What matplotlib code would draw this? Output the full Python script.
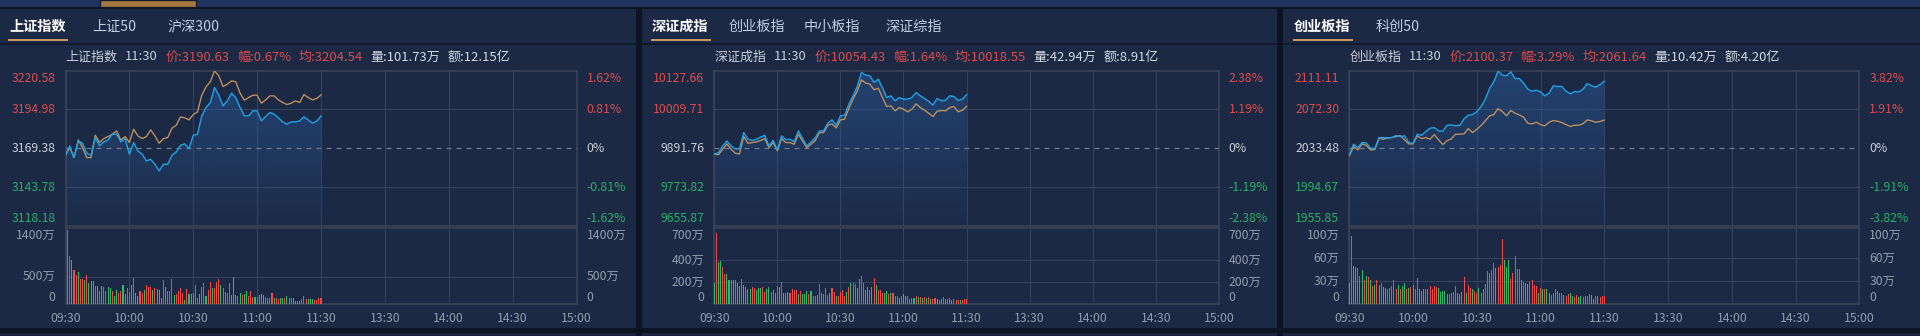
import numpy as np
import matplotlib
matplotlib.use("Agg")
import matplotlib.pyplot as plt
from matplotlib.patches import Rectangle, Polygon
from matplotlib.colors import to_rgb

plt.rcParams['font.family'] = ['Noto Sans CJK SC', 'DejaVu Sans']

# ---------------- data ----------------
time_ticks = [0, 30, 60, 90, 120, 150, 180, 210, 240]
time_labels = ['09:30', '10:00', '10:30', '11:00', '11:30', '13:30', '14:00', '14:30', '15:00']
line_minutes = list(range(0, 121, 2))
vol_minutes = list(range(121))

# 上证指数
sh_tabs = ['上证指数', '上证50', '沪深300']
sh_header = ['上证指数', '11:30', '价:3190.63', '幅:0.67%', '均:3204.54', '量:101.73万', '额:12.15亿']
sh_ticks = [3220.58, 3194.98, 3169.38, 3143.78, 3118.18]
sh_pct = ['1.62%', '0.81%', '0%', '-0.81%', '-1.62%']
sh_vol_ticks = [0, 500, 1400]
sh_price = [3164.77, 3170.92, 3163.23, 3174.22, 3172.68, 3166.08, 3164.77, 3176.41, 3170.92, 3173.56,
            3174.87, 3178.61, 3178.61, 3173.56, 3175.75, 3165.43, 3173.12, 3167.62, 3165.43, 3161.03,
            3162.13, 3158.83, 3154.44, 3158.83, 3158.83, 3164.77, 3166.96, 3171.36, 3172.24, 3169.16,
            3177.95, 3178.61, 3190.70, 3196.19, 3199.48, 3209.37, 3204.32, 3197.29, 3200.58, 3205.64,
            3202.56, 3196.19, 3190.70, 3190.70, 3193.99, 3193.99, 3187.40, 3190.26, 3192.89, 3191.79,
            3189.38, 3186.74, 3185.20, 3186.74, 3186.74, 3187.40, 3190.04, 3188.06, 3185.86, 3187.18,
            3190.63]
sh_avg = [3164.77, 3169.82, 3163.23, 3174.87, 3169.82, 3163.23, 3163.23, 3177.95, 3173.12, 3175.75,
          3177.07, 3178.61, 3180.81, 3174.87, 3177.07, 3173.12, 3181.91, 3177.51, 3175.75, 3177.07,
          3181.47, 3177.51, 3172.68, 3175.75, 3176.41, 3182.57, 3184.54, 3190.04, 3189.38, 3188.06,
          3191.57, 3193.33, 3204.32, 3209.81, 3213.11, 3220.36, 3217.06, 3210.03, 3211.57, 3213.77,
          3213.11, 3205.64, 3201.02, 3202.78, 3204.32, 3204.32, 3199.05, 3201.24, 3203.88, 3203.88,
          3201.24, 3199.48, 3198.17, 3199.05, 3200.58, 3199.48, 3204.76, 3202.78, 3201.24, 3202.12,
          3204.54]
sh_vol = [505, 1349, 885, 807, 626, 536, 590, 458, 458, 445, 530, 391, 415, 415, 325, 337,
          235, 325, 313, 247, 313, 295, 235, 145, 253, 205, 235, 349, 187, 301, 223, 355,
          470, 205, 145, 229, 205, 265, 349, 319, 319, 265, 301, 283, 259, 114, 445, 319,
          247, 247, 464, 169, 187, 229, 295, 205, 66, 277, 187, 187, 205, 343, 102, 187,
          313, 385, 145, 265, 409, 301, 289, 409, 458, 349, 301, 223, 205, 385, 157, 488,
          163, 145, 205, 157, 175, 229, 145, 229, 133, 133, 126, 157, 181, 169, 126, 102,
          102, 193, 114, 114, 96, 102, 102, 102, 145, 102, 102, 102, 54, 54, 54, 90,
          150, 84, 90, 90, 90, 78, 78, 102, 102]
sh_dir = [-1, 1, 1, -1, 1, 1, -1, 1, 1, -1, 1, -1, -1, -1, 1, -1,
          1, -1, 1, 1, -1, -1, 1, -1, -1, 1, 1, -1, -1, 1, 1, -1,
          1, -1, -1, 1, 1, -1, 1, 1, 1, -1, 1, -1, -1, -1, 1, -1,
          1, 1, 1, -1, 1, 1, 1, 1, -1, 1, -1, -1, -1, 1, 1, -1,
          1, 1, -1, 1, 1, -1, 1, 1, 1, -1, 1, -1, 1, 1, -1, -1,
          -1, 1, -1, 1, -1, -1, 1, 1, 1, -1, 1, -1, -1, -1, 1, 1,
          1, 1, -1, 1, 1, -1, -1, 1, -1, -1, 1, -1, -1, 1, -1, 1,
          1, 1, -1, -1, -1, 1, 1, 1, 1]

# 深证成指
sz_tabs = ['深证成指', '创业板指', '中小板指', '深证综指']
sz_header = ['深证成指', '11:30', '价:10054.43', '幅:1.64%', '均:10018.55', '量:42.94万', '额:8.91亿']
sz_ticks = [10127.66, 10009.71, 9891.76, 9773.82, 9655.87]
sz_pct = ['2.38%', '1.19%', '0%', '-1.19%', '-2.38%']
sz_vol_ticks = [0, 200, 400, 700]
sz_price = [9873.54, 9878.60, 9898.85, 9914.04, 9898.85, 9889.74, 9889.74, 9939.35, 9919.10, 9915.05,
            9919.10, 9925.17, 9931.25, 9898.85, 9916.06, 9886.70, 9929.22, 9918.09, 9919.10, 9911.00,
            9944.41, 9921.12, 9898.85, 9911.00, 9923.15, 9944.41, 9944.41, 9967.70, 9977.82, 9961.62,
            9989.97, 9991.99, 10025.40, 10050.72, 10079.06, 10121.60, 10113.50, 10111.46, 10091.21, 10101.34,
            10075.01, 10045.65, 10050.72, 10035.53, 10045.65, 10040.59, 10040.59, 10045.65, 10060.84, 10050.72,
            10042.62, 10034.52, 10022.37, 10042.62, 10035.53, 10037.55, 10050.72, 10048.69, 10036.54, 10040.59,
            10054.43]
sz_avg = [9873.54, 9872.53, 9888.73, 9904.93, 9888.73, 9876.58, 9874.55, 9927.20, 9906.95, 9908.98,
          9911.00, 9915.05, 9921.12, 9893.79, 9908.98, 9883.67, 9921.12, 9908.98, 9908.98, 9903.91,
          9934.29, 9914.04, 9893.79, 9903.91, 9915.05, 9939.35, 9939.35, 9961.62, 9965.67, 9953.52,
          9977.82, 9979.85, 10012.24, 10040.59, 10065.90, 10099.30, 10089.19, 10086.15, 10068.94, 10074.00,
          10045.65, 10018.32, 10020.34, 10005.16, 10015.28, 10010.22, 10002.12, 10010.22, 10026.42, 10015.28,
          10007.18, 9998.07, 9987.94, 10004.14, 10006.17, 10005.16, 10015.28, 10018.32, 10002.12, 10007.18,
          10018.55]
sz_vol = [195, 652, 386, 395, 336, 271, 271, 218, 218, 218, 218, 195, 165, 230, 174, 159, 136,
          136, 159, 145, 130, 145, 145, 153, 112, 136, 153, 112, 124, 100, 165, 159, 204, 100,
          100, 112, 100, 139, 130, 130, 89, 115, 91, 89, 121, 91, 115, 77, 77, 86, 180,
          100, 91, 145, 86, 100, 142, 112, 77, 71, 112, 124, 77, 112, 159, 189, 189, 183,
          145, 230, 260, 189, 130, 159, 130, 159, 236, 174, 124, 124, 100, 100, 115, 89, 100,
          100, 77, 71, 56, 71, 91, 77, 77, 50, 59, 56, 77, 65, 65, 56, 65, 56,
          62, 47, 50, 56, 50, 41, 50, 65, 50, 50, 56, 41, 50, 41, 41, 41, 41, 47, 47]
sz_dir = [-1, 1, -1, -1, 1, 1, -1, -1, 1, -1, 1, -1, -1, 1, -1, -1, -1,
          -1, 1, 1, -1, -1, -1, 1, 1, -1, -1, 1, 1, -1, 1, -1, 1, -1,
          -1, -1, 1, 1, 1, 1, -1, 1, -1, -1, -1, 1, -1, 1, 1, -1, 1,
          -1, 1, 1, 1, -1, 1, 1, -1, 1, 1, 1, 1, -1, 1, -1, 1, 1,
          -1, 1, 1, 1, -1, -1, 1, -1, 1, -1, 1, 1, 1, -1, -1, 1, -1,
          1, 1, 1, -1, 1, -1, -1, 1, 1, 1, -1, 1, -1, 1, -1, 1, -1,
          1, -1, 1, 1, -1, 1, -1, 1, -1, 1, -1, -1, 1, 1, 1, -1, 1, 1, 1]

# 创业板指
cy_tabs = ['创业板指', '科创50']
cy_header = ['创业板指', '11:30', '价:2100.37', '幅:3.29%', '均:2061.64', '量:10.42万', '额:4.20亿']
cy_ticks = [2111.11, 2072.30, 2033.48, 1994.67, 1955.85]
cy_pct = ['3.82%', '1.91%', '0%', '-1.91%', '-3.82%']
cy_vol_ticks = [0, 30, 60, 100]
cy_price = [2026.48, 2037.48, 2034.15, 2039.14, 2038.81, 2033.48, 2033.15, 2044.14, 2044.14, 2043.81,
            2044.14, 2046.14, 2045.14, 2045.81, 2039.14, 2038.48, 2047.47, 2046.47, 2050.14, 2053.47,
            2054.14, 2050.80, 2050.47, 2056.47, 2056.80, 2055.80, 2056.47, 2062.80, 2066.46, 2067.13,
            2069.80, 2075.13, 2082.46, 2093.12, 2099.78, 2110.50, 2106.45, 2105.78, 2109.78, 2103.11,
            2103.11, 2098.45, 2092.45, 2090.45, 2091.45, 2089.79, 2085.79, 2088.45, 2095.78, 2095.12,
            2095.12, 2090.45, 2087.79, 2090.12, 2089.79, 2092.45, 2098.12, 2095.78, 2094.45, 2097.12,
            2100.37]
cy_avg = [2025.82, 2035.14, 2031.81, 2037.81, 2036.48, 2031.81, 2032.15, 2043.47, 2042.48, 2043.81,
          2044.14, 2045.14, 2046.14, 2041.81, 2037.81, 2037.81, 2045.81, 2043.14, 2044.14, 2042.48,
          2047.14, 2041.81, 2037.14, 2041.14, 2042.81, 2047.47, 2047.47, 2047.81, 2053.14, 2049.14,
          2052.47, 2056.14, 2060.80, 2065.80, 2067.13, 2073.13, 2070.13, 2065.80, 2071.13, 2068.46,
          2066.80, 2064.46, 2058.47, 2057.80, 2059.47, 2057.13, 2055.80, 2059.47, 2061.13, 2060.47,
          2059.13, 2057.13, 2055.14, 2056.47, 2056.47, 2058.13, 2061.80, 2060.80, 2059.47, 2060.13,
          2061.64]
cy_vol = [27, 89, 50, 49, 47, 36, 44, 31, 36, 35, 31, 24, 25, 32, 25, 27,
          22, 21, 20, 21, 23, 31, 20, 25, 20, 23, 27, 20, 21, 22, 25, 20, 34,
          19, 17, 19, 20, 20, 23, 20, 24, 22, 21, 16, 17, 17, 13, 13,
          14, 16, 24, 15, 13, 16, 35, 14, 25, 21, 20, 17, 14, 21, 15, 20,
          26, 43, 40, 44, 53, 47, 49, 51, 85, 58, 49, 58, 33, 40, 63, 46,
          46, 32, 29, 27, 26, 29, 31, 25, 24, 14, 21, 20, 19, 20, 15, 12,
          14, 19, 17, 14, 14, 12, 11, 13, 14, 11, 9, 12, 9, 11, 9, 10,
          10, 13, 12, 6, 11, 10, 9, 11, 10]
cy_dir = [-1, 1, -1, -1, 1, 1, -1, 1, -1, 1, -1, 1, -1, 1, -1, 1,
          -1, -1, 1, 1, 1, 1, 1, -1, 1, -1, -1, 1, -1, 1, -1, 1, 1,
          -1, -1, -1, 1, 1, 1, 1, 1, 1, -1, -1, -1, -1, -1, 1,
          1, 1, 1, -1, -1, -1, 1, -1, 1, 1, -1, 1, 1, -1, 1, -1,
          1, 1, 1, 1, 1, -1, 1, 1, 1, -1, -1, -1, 1, 1, 1, 1,
          1, -1, 1, -1, -1, 1, 1, 1, 1, -1, 1, -1, 1, -1, -1, 1,
          1, 1, -1, 1, 1, -1, 1, 1, -1, -1, 1, 1, -1, -1, 1, -1,
          1, 1, -1, -1, 1, -1, 1, 1, 1]

# ---------------- style ----------------
W, H = 1920, 336
DARK = '#0e1522'
PANEL = '#1c2944'
GRID = '#35425d'
FRAME = '#3c4456'
RED_T = '#dc4a4c'
GREEN_T = '#29ad68'
RED_B = '#f04a4a'
GREEN_B = '#2dbb6c'
MID_T = '#c9cdd6'
GRAY_T = '#949cac'
BLUE = '#1ea2e6'
ORANGE = '#c4935a'
FS = 8.8

panels = [
    dict(x0=0, x1=636, px=(65.5, 576.5), tabs=sh_tabs, tab_x=[9, 92, 167], header=sh_header,
         ticks=sh_ticks, pct=sh_pct, price=sh_price, avg=sh_avg, vol=sh_vol, dirs=sh_dir, vticks=sh_vol_ticks),
    dict(x0=642, x1=1277, px=(714.3, 1218.8), tabs=sz_tabs, tab_x=[652, 729, 804, 886], header=sz_header,
         ticks=sz_ticks, pct=sz_pct, price=sz_price, avg=sz_avg, vol=sz_vol, dirs=sz_dir, vticks=sz_vol_ticks),
    dict(x0=1283, x1=1920, px=(1349.3, 1859.3), tabs=cy_tabs, tab_x=[1294, 1376], header=cy_header,
         ticks=cy_ticks, pct=cy_pct, price=cy_price, avg=cy_avg, vol=cy_vol, dirs=cy_dir, vticks=cy_vol_ticks),
]

fig = plt.figure(figsize=(W / 100, H / 100), dpi=100, facecolor=DARK)
bg = fig.add_axes([0, 0, 1, 1], zorder=-10)
bg.set_xlim(0, W)
bg.set_ylim(H, 0)
bg.axis('off')
renderer = fig.canvas.get_renderer()

# top strip
bg.add_patch(Rectangle((0, 0), W, 7, facecolor='#1f335e', edgecolor='none'))
bg.add_patch(Rectangle((100, 0), 96, 7, facecolor='#a57842', edgecolor='#131b2c', lw=1))


def rect(x0, y0, x1, y1):
    return [x0 / W, 1 - y1 / H, (x1 - x0) / W, (y1 - y0) / H]


def style_axes(ax):
    ax.set_facecolor('none')
    for s in ax.spines.values():
        s.set_color(FRAME)
        s.set_linewidth(1.1)
    ax.tick_params(length=0, labelleft=False, labelbottom=False)
    ax.set_xlim(0, 240)
    ax.set_xticks(time_ticks)
    ax.grid(color=GRID, lw=0.8)
    ax.set_axisbelow(True)


def side_label(ax, y, text, side, color, va, dy=0):
    if side == 'left':
        ax.annotate(text, xy=(0, y), xycoords=('axes fraction', 'data'), xytext=(-10, dy),
                    textcoords='offset pixels', ha='right', va=va, color=color, fontsize=FS)
    else:
        ax.annotate(text, xy=(1, y), xycoords=('axes fraction', 'data'), xytext=(10, dy),
                    textcoords='offset pixels', ha='left', va=va, color=color, fontsize=FS)


for p in panels:
    x0, x1 = p['x0'], p['x1']
    bg.add_patch(Rectangle((x0, 9), x1 - x0, 319, facecolor=PANEL, edgecolor='none'))
    bg.add_patch(Rectangle((x0, 333), x1 - x0, 3, facecolor='#1a2640', edgecolor='none'))
    bg.add_patch(Rectangle((x0, 42.5), x1 - x0, 2.5, facecolor='#111a2b', edgecolor='none'))

    # tabs
    for i, (tab, tx) in enumerate(zip(p['tabs'], p['tab_x'])):
        t = bg.text(tx, 27, tab, fontsize=10.2, va='center', ha='left',
                    color='#ffffff' if i == 0 else '#c3cde0', fontweight='bold' if i == 0 else 'normal')
        if i == 0:
            bb = t.get_window_extent(renderer)
            bg.add_patch(Rectangle((tx - 1.5, 38.5), bb.width + 3.5, 2.2, facecolor='#c8965a', edgecolor='none'))

    # header line
    hx = p['px'][0]
    hcols = [MID_T, MID_T, RED_T, RED_T, RED_T, '#d5d9e0', '#d5d9e0']
    for seg, c in zip(p['header'], hcols):
        t = bg.text(hx, 57, seg, fontsize=9.4, va='center', ha='left', color=c)
        hx += t.get_window_extent(renderer).width + 7.5

    # price axes
    ax = fig.add_axes(rect(p['px'][0], 70.5, p['px'][1], 226))
    style_axes(ax)
    ticks = p['ticks']
    ax.set_yticks([ticks[1], ticks[3]])
    ax.set_ylim(ticks[-1], ticks[0])
    ax.axhline(ticks[2], color='#737b8c', lw=0.9, ls=(0, (4, 4)), zorder=3)

    x = np.array(line_minutes)
    y = np.array(p['price'])
    ybot = ticks[-1]
    verts = np.column_stack([np.r_[x[0], x, x[-1]], np.r_[ybot, y, ybot]])
    clip = Polygon(verts, closed=True, transform=ax.transData, facecolor='none', edgecolor='none')
    ax.add_patch(clip)
    grad = np.zeros((200, 1, 4))
    grad[..., :3] = to_rgb('#2a62a8')
    grad[..., 3] = np.linspace(0.45, 0.04, 200)[:, None]
    im = ax.imshow(grad, extent=[x[0], x[-1], ybot, y.max()], origin='upper', aspect='auto',
                   zorder=1, interpolation='bilinear')
    im.set_clip_path(clip)
    ax.plot(line_minutes, p['avg'], color=ORANGE, lw=0.95, zorder=4)
    ax.plot(line_minutes, p['price'], color=BLUE, lw=1.0, zorder=5)
    ax.set_xlim(0, 240)
    ax.set_ylim(ticks[-1], ticks[0])

    vas = ['top', 'center', 'center', 'center', 'bottom']
    dys = [-2, 0, 0, 0, 1]
    cols = [RED_T, RED_T, MID_T, GREEN_T, GREEN_T]
    for v, pc, va, dy, c in zip(ticks, p['pct'], vas, dys, cols):
        side_label(ax, v, f'{v:.2f}', 'left', c, va, dy)
        side_label(ax, v, pc, 'right', c, va, dy)

    # volume axes
    av = fig.add_axes(rect(p['px'][0], 227.5, p['px'][1], 304))
    style_axes(av)
    vt = p['vticks']
    av.set_ylim(0, vt[-1])
    av.set_yticks(vt[1:-1])
    colors = [RED_B if d > 0 else GREEN_B for d in p['dirs']]
    av.bar(vol_minutes, p['vol'], width=0.5, color=colors, linewidth=0, zorder=3, antialiased=False)
    av.set_xlim(0, 240)
    av.tick_params(labelbottom=True, labelsize=FS, labelcolor=GRAY_T, pad=5.5)
    av.set_xticklabels(time_labels)
    for i, v in enumerate(vt):
        lab = '0' if v == 0 else f'{v}万'
        va = 'bottom' if i == 0 else ('top' if i == len(vt) - 1 else 'center')
        dy = 0 if i == 0 else (-1.5 if i == len(vt) - 1 else 0)
        side_label(av, v, lab, 'left', GRAY_T, va, dy)
        side_label(av, v, lab, 'right', GRAY_T, va, dy)

fig.savefig('out.png', dpi=100, facecolor=DARK)
